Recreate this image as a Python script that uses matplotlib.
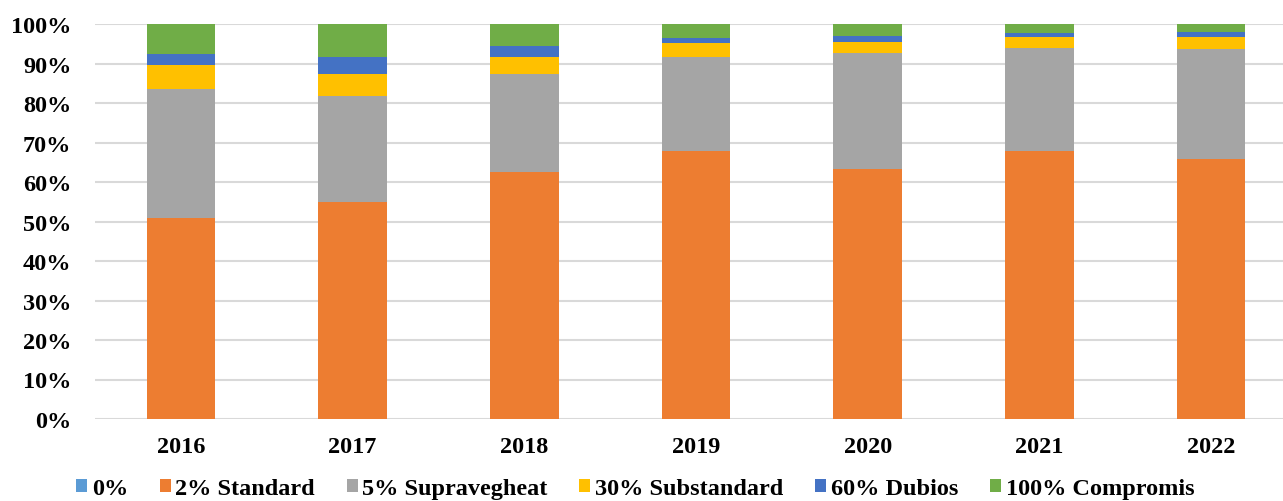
import matplotlib.pyplot as plt
import numpy as np
import matplotlib.ticker as mtick

# values (percent of total per year)
years = ["2016", "2017", "2018", "2019", "2020", "2021", "2022"]
cls_0 = [0.0, 0.0, 0.0, 0.0, 0.0, 0.0, 0.0]
cls_2 = [50.9, 54.9, 62.5, 67.9, 63.3, 67.8, 65.7]
cls_5 = [32.7, 26.8, 24.9, 23.7, 29.4, 26.1, 27.9]
cls_30 = [5.9, 5.7, 4.2, 3.5, 2.7, 2.7, 3.0]
cls_60 = [2.9, 4.2, 2.9, 1.3, 1.5, 1.0, 1.3]
cls_100 = [7.6, 8.4, 5.5, 3.6, 3.1, 2.4, 2.1]

labels = ["0%", "2% Standard", "5% Supravegheat", "30% Substandard",
          "60% Dubios", "100% Compromis"]
colors = ["#5b9bd5", "#ed7d31", "#a5a5a5", "#ffc000", "#4472c4", "#70ad47"]

plt.rcParams["font.family"] = ["Liberation Serif", "DejaVu Serif"]
plt.rcParams["font.weight"] = "bold"

fig = plt.figure(figsize=(12.83, 5.02), dpi=100)
ax = fig.add_axes([95 / 1283, 1 - 420 / 502, (1297 - 95) / 1283, (420 - 25) / 502])

x = np.arange(len(years))
bottom = np.zeros(len(years))
for vals, lab, col in zip([cls_0, cls_2, cls_5, cls_30, cls_60, cls_100], labels, colors):
    v = np.array(vals)
    ax.bar(x, v, 0.4, bottom=bottom, color=col, label=lab, zorder=3)
    bottom += v

ax.set_xlim(-0.5, 6.5)
ax.set_ylim(0, 100)
ax.set_yticks(np.arange(0, 101, 10))
ax.yaxis.set_major_formatter(mtick.PercentFormatter(100, decimals=0))
ax.set_xticks(x)
ax.set_xticklabels(years)
ax.tick_params(axis="both", length=0, labelsize=17.5)
ax.tick_params(axis="y", pad=17)
ax.tick_params(axis="x", pad=12)
for s in ax.spines.values():
    s.set_visible(False)
ax.grid(axis="y", color="#d9d9d9", linewidth=1.5, zorder=0)

fig.legend(loc="center", bbox_to_anchor=(0.495, 1 - 490 / 502), ncol=6, frameon=False,
           fontsize=17.5, handlelength=0.45, handleheight=0.45, handletextpad=0.2,
           columnspacing=1.3)

fig.savefig("out.png", dpi=100)
